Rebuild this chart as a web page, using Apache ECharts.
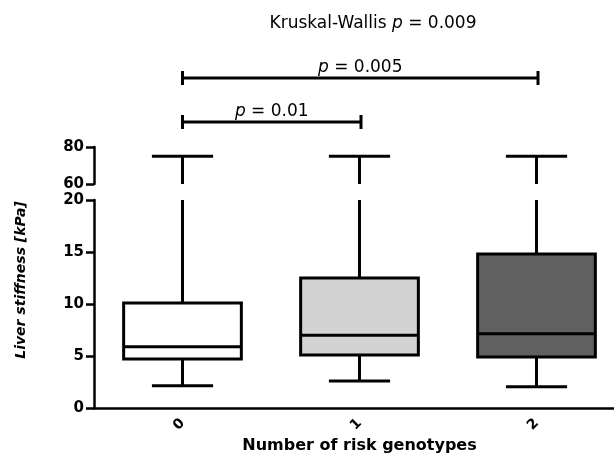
<!DOCTYPE html>
<html><head><meta charset="utf-8">
<script src="https://cdn.jsdelivr.net/npm/echarts@6/dist/echarts.min.js"></script>
<style>html,body{margin:0;padding:0;background:#fff}#c{width:614px;height:455px}</style>
</head><body><div id="c"></div>
<script>
const categories = ['0', '1', '2'];
const lowWhisker = [2.15, 2.6, 2.05];
const q1 = [4.7, 5.1, 4.9];
const median = [5.9, 7.0, 7.15];
const q3 = [10.1, 12.5, 14.8];
const highWhisker = [75, 75, 75];
const lowerRange = [0, 20];
const upperRange = [60, 80];
const comparisons = [
  { from: 0, to: 1, p: '0.01' },
  { from: 0, to: 2, p: '0.005' }
];
const kruskalP = '0.009';
const boxColors = ['#ffffff', '#d3d3d3', '#606060'];

const FONT = 'DejaVu Sans';
const LW = 3;
const boxData = categories.map((c, i) => [i, lowWhisker[i], q1[i], median[i], q3[i], highWhisker[i]]);

function lowerRender(params, api) {
  const i = params.dataIndex;
  const cx = api.coord([i, 0])[0];
  const bw = api.size([1, 0])[0] * 0.665;
  const capW = bw * 0.52;
  const yLo = api.coord([i, api.value(1)])[1];
  const yQ1 = api.coord([i, api.value(2)])[1];
  const yMed = api.coord([i, api.value(3)])[1];
  const yQ3 = api.coord([i, api.value(4)])[1];
  const yTop = api.coord([i, Math.min(api.value(5), lowerRange[1])])[1];
  const ls = { stroke: '#000', lineWidth: LW };
  return { type: 'group', children: [
    { type: 'line', shape: { x1: cx, y1: yQ3, x2: cx, y2: yTop }, style: ls },
    { type: 'line', shape: { x1: cx, y1: yQ1, x2: cx, y2: yLo }, style: ls },
    { type: 'line', shape: { x1: cx - capW / 2, y1: yLo, x2: cx + capW / 2, y2: yLo }, style: ls },
    { type: 'rect', shape: { x: cx - bw / 2, y: yQ3, width: bw, height: yQ1 - yQ3 },
      style: { fill: boxColors[i], stroke: '#000', lineWidth: LW } },
    { type: 'line', shape: { x1: cx - bw / 2, y1: yMed, x2: cx + bw / 2, y2: yMed }, style: ls }
  ]};
}
function upperRender(params, api) {
  const i = params.dataIndex;
  const cx = api.coord([i, upperRange[0]])[0];
  const bw = api.size([1, 0])[0] * 0.665;
  const capW = bw * 0.52;
  const yBot = api.coord([i, upperRange[0]])[1];
  const yTop = api.coord([i, api.value(5)])[1];
  const ls = { stroke: '#000', lineWidth: LW };
  return { type: 'group', children: [
    { type: 'line', shape: { x1: cx, y1: yBot, x2: cx, y2: yTop }, style: ls },
    { type: 'line', shape: { x1: cx - capW / 2, y1: yTop, x2: cx + capW / 2, y2: yTop }, style: ls }
  ]};
}

const chart = echarts.init(document.getElementById('c'), null, { renderer: 'canvas' });
const axisLineStyle = { color: '#000', width: 2.5 };
chart.setOption({
  animation: false,
  backgroundColor: '#fff',
  grid: [
    { left: 94, width: 531, top: 147, height: 37, outerBoundsMode: 'none', containLabel: false },
    { left: 94, width: 531, top: 200, height: 208, outerBoundsMode: 'none', containLabel: false }
  ],
  xAxis: [
    { gridIndex: 0, type: 'category', data: categories, show: false },
    { gridIndex: 1, type: 'category', data: categories,
      axisLine: { lineStyle: axisLineStyle }, axisTick: { show: false },
      axisLabel: { rotate: 45, margin: 13, color: '#000', fontFamily: FONT, fontWeight: 'bold', fontSize: 14 },
      name: 'Number of risk genotypes', nameLocation: 'middle', nameGap: 30, nameMoveOverlap: false,
      nameTextStyle: { color: '#000', fontFamily: FONT, fontWeight: 'bold', fontSize: 16 } }
  ],
  yAxis: [
    { gridIndex: 0, type: 'value', min: upperRange[0], max: upperRange[1], interval: 20,
      axisLine: { show: true, lineStyle: axisLineStyle },
      axisTick: { show: true, length: 8, lineStyle: { color: '#000', width: 2.5 } },
      splitLine: { show: false },
      axisLabel: { margin: 10, color: '#000', fontFamily: FONT, fontWeight: 'bold', fontSize: 15 } },
    { gridIndex: 1, type: 'value', min: lowerRange[0], max: lowerRange[1], interval: 5,
      axisLine: { show: true, lineStyle: axisLineStyle },
      axisTick: { show: true, length: 8, lineStyle: { color: '#000', width: 2.5 } },
      splitLine: { show: false },
      axisLabel: { margin: 10, color: '#000', fontFamily: FONT, fontWeight: 'bold', fontSize: 15 } }
  ],
  series: [
    { type: 'custom', xAxisIndex: 0, yAxisIndex: 0, renderItem: upperRender, data: boxData,
      encode: { x: 0, y: [5] }, clip: false, silent: true },
    { type: 'custom', xAxisIndex: 1, yAxisIndex: 1, renderItem: lowerRender, data: boxData,
      encode: { x: 0, y: [1, 2, 3, 4] }, clip: false, silent: true }
  ]
});

const px = i => chart.convertToPixel({ xAxisIndex: 1 }, i);
const levelY = [122, 78];
const graphics = [];
const rich = { i: { fontStyle: 'italic', fontFamily: FONT, fontSize: 17, fill: '#000' } };
comparisons.forEach((c, k) => {
  const x1 = px(c.from), x2 = px(c.to) + 1.5, y = levelY[k];
  const ls = { stroke: '#000', lineWidth: LW };
  graphics.push(
    { type: 'line', shape: { x1: x1, y1: y, x2: x2, y2: y }, style: ls },
    { type: 'line', shape: { x1: x1, y1: y - 7, x2: x1, y2: y + 7 }, style: ls },
    { type: 'line', shape: { x1: x2, y1: y - 7, x2: x2, y2: y + 7 }, style: ls },
    { type: 'text', x: (x1 + x2) / 2, y: y - 10,
      style: { text: '{i|p} = ' + c.p, rich: rich, fontFamily: FONT, fontSize: 17, fill: '#000',
               align: 'center', verticalAlign: 'middle' } }
  );
});
graphics.push(
  { type: 'text', x: 373, y: 24,
    style: { text: 'Kruskal-Wallis {i|p} = ' + kruskalP, rich: rich, fontFamily: FONT, fontSize: 17, fill: '#000',
             align: 'center', verticalAlign: 'middle' } },
  { type: 'text', x: 21, y: 280, rotation: Math.PI / 2,
    style: { text: 'Liver stiffness [kPa]', fontFamily: FONT, fontSize: 14, fontWeight: 'bold', fontStyle: 'italic',
             fill: '#000', align: 'center', verticalAlign: 'middle' } }
);
chart.setOption({ graphic: graphics });
</script>
</body></html>
